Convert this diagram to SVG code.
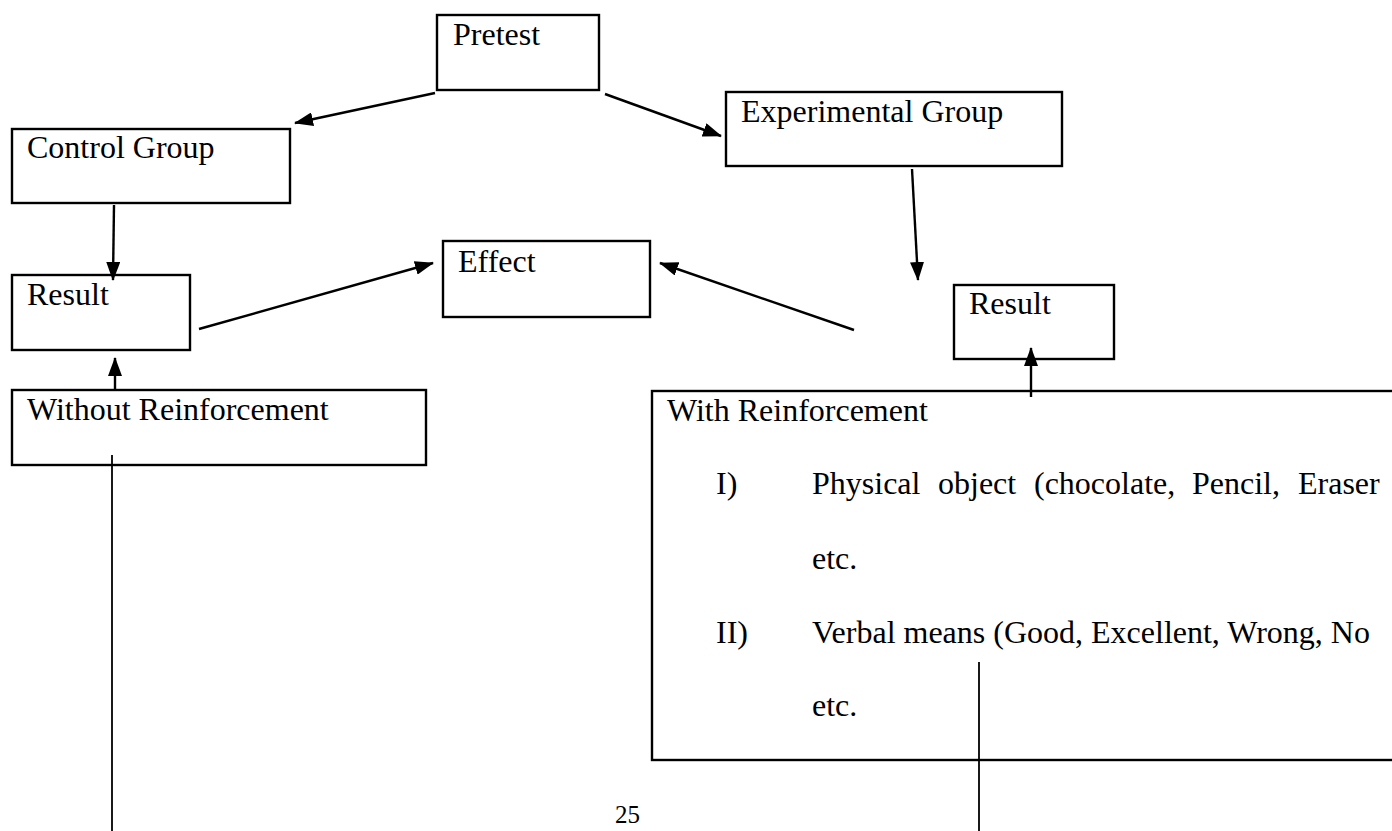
<svg xmlns="http://www.w3.org/2000/svg" width="1392" height="831" viewBox="0 0 1392 831">
<style>
.box{fill:none;stroke:#000;stroke-width:2.4}
.t{font-family:"Liberation Serif","Times New Roman",serif;font-size:32px;fill:#000}
.pg{font-family:"Liberation Serif","Times New Roman",serif;font-size:25px;fill:#000}
.c{stroke:#000;stroke-width:2.4;fill:none}
.ln{stroke:#000;stroke-width:1.8;fill:none}
</style>
<defs>
<marker id="ah" markerUnits="userSpaceOnUse" markerWidth="19" markerHeight="14" refX="18" refY="7" orient="auto">
<path d="M0,0 L19,7 L0,14 z" fill="#000"/>
</marker>
</defs>
<rect width="1392" height="831" fill="#fff"/>
<g id="pretest"><rect class="box" x="437" y="15" width="162" height="75"/><text class="t" x="453" y="45">Pretest</text></g>
<g id="control"><rect class="box" x="12" y="129" width="278" height="74"/><text class="t" x="27" y="158">Control Group</text></g>
<g id="experimental"><rect class="box" x="726" y="92" width="336" height="74"/><text class="t" x="741" y="122">Experimental Group</text></g>
<g id="result-left"><rect class="box" x="12" y="275" width="178" height="75"/><text class="t" x="27" y="305">Result</text></g>
<g id="effect"><rect class="box" x="443" y="241" width="207" height="76"/><text class="t" x="458" y="272">Effect</text></g>
<g id="result-right"><rect class="box" x="954" y="285" width="160" height="74"/><text class="t" x="969" y="314">Result</text></g>
<g id="without"><rect class="box" x="12" y="390" width="414" height="75"/><text class="t" x="27" y="420">Without Reinforcement</text></g>
<g id="with"><rect class="box" x="652" y="391" width="760" height="369"/>
<text class="t" x="667" y="421">With Reinforcement</text>
<text class="t" x="716" y="494">I)</text>
<text class="t" y="494"><tspan x="812">Physical</tspan><tspan x="938">object</tspan><tspan x="1034">(chocolate,</tspan><tspan x="1192">Pencil,</tspan><tspan x="1298">Eraser</tspan></text>
<text class="t" x="812" y="569">etc.</text>
<text class="t" x="716" y="643">II)</text>
<text class="t" x="812" y="643">Verbal means (Good, Excellent, Wrong, No</text>
<text class="t" x="812" y="716">etc.</text>
</g>
<g id="page-number"><text class="pg" x="615" y="823">25</text></g>
<g id="connectors">
<line class="c" x1="435" y1="93" x2="295" y2="123" marker-end="url(#ah)"/>
<line class="c" x1="605" y1="94" x2="721" y2="136" marker-end="url(#ah)"/>
<line class="c" x1="114" y1="205" x2="113" y2="280" marker-end="url(#ah)"/>
<line class="c" x1="912" y1="169" x2="918" y2="280" marker-end="url(#ah)"/>
<line class="c" x1="199" y1="329" x2="433" y2="263" marker-end="url(#ah)"/>
<line class="c" x1="854" y1="330" x2="660" y2="263" marker-end="url(#ah)"/>
<line class="c" x1="115" y1="389" x2="115" y2="358" marker-end="url(#ah)"/>
<line class="c" x1="1031" y1="397" x2="1031" y2="348" marker-end="url(#ah)"/>
<line class="ln" x1="112" y1="455" x2="112" y2="831"/>
<line class="ln" x1="979" y1="662" x2="979" y2="831"/>
</g>
</svg>
